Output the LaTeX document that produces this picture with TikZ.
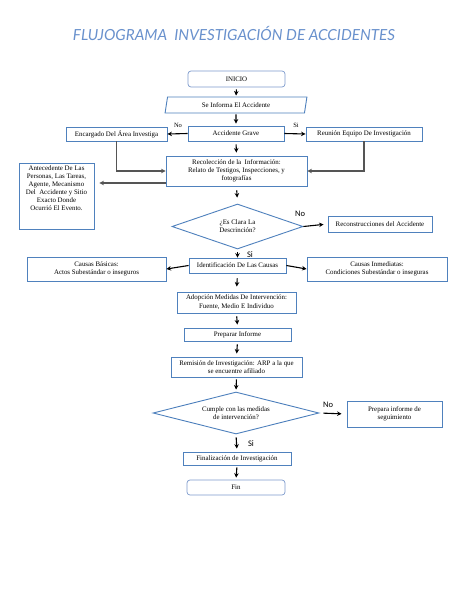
\documentclass[tikz,border=0pt]{standalone}
\usepackage{fontspec}
\setmainfont{Liberation Serif}
\newfontfamily\labf{Carlito}
\newfontfamily\ttlf{Lato}
\usetikzlibrary{shapes.geometric,arrows.meta,calc}
\definecolor{bbox}{RGB}{79,129,189}
\definecolor{rblue}{RGB}{125,155,205}
\definecolor{gline}{RGB}{85,85,85}
\definecolor{ttlc}{RGB}{105,145,205}
\begin{document}
\begin{tikzpicture}[x=1pt,y=-1pt,
  box/.style={draw=bbox, line width=0.9pt, fill=white, align=center, inner sep=0pt,
    font=\fontsize{6.9}{8}\selectfont},
  rbox/.style={box, draw=rblue, line width=0.7pt, rounded corners=3pt},
  dia/.style={box, diamond, aspect=3},
  arr/.style={-{Stealth[length=4.5pt,width=4.5pt]}, line width=1.1pt},
  garr/.style={arr, draw=gline},
  slab/.style={font=\fontsize{6.5}{7}\selectfont, inner sep=0pt},
  blab/.style={font=\labf\fontsize{8.5}{9}\selectfont, inner sep=0pt},
]
\useasboundingbox[fill=white] (0,0) rectangle (474,613);

\node[text=ttlc, inner sep=0pt] (title) at (234,33)
  {\resizebox{322pt}{!}{\ttlf\itshape FLUJOGRAMA\ \ INVESTIGACIÓN DE ACCIDENTES}};

\node[rbox, minimum width=97, minimum height=16] (inicio) at (236.5,79) {INICIO};
\node[box, trapezium, trapezium left angle=76, trapezium right angle=104,
  trapezium stretches=true, minimum width=142, minimum height=16] (inf) at (236,105) {Se Informa El Accidente};
\node[box, minimum width=96, minimum height=15] (grave) at (236,133.5) {Accidente Grave};
\node[box, minimum width=101, minimum height=14] (enc) at (116.5,134) {Encargado Del Área Investiga};
\node[box, minimum width=116, minimum height=14] (reu) at (364,134) {Reunión Equipo De Investigación};
\node[box, minimum width=141, minimum height=30] (rec) at (236.5,171)
  {Recolección de la\ \ Información:\\Relato de Testigos, Inspecciones, y\\fotografías};
\node[box, minimum width=75, minimum height=66] (ant) at (56.5,196)
  {Antecedente De Las\\Personas, Las Tareas,\\Agente, Mecanismo\\Del\ \ Accidente y Sitio\\Exacto Donde\\Ocurrió El Evento.\\\mbox{}\\\mbox{}};
\node[dia, minimum width=131, minimum height=45] (d1) at (237.5,226.5) {¿Es Clara La\\Descrinción?};
\node[box, minimum width=104, minimum height=16] (recon) at (380,224) {Reconstrucciones del Accidente};
\node[box, minimum width=97, minimum height=15] (ident) at (237.5,265.5) {Identificación De Las Causas};
\node[box, minimum width=139, minimum height=24] (cb) at (96.5,269) {Causas Básicas:\\Actos Subestándar o inseguros};
\node[box, minimum width=140, minimum height=24] (ci) at (377,269) {Causas Inmediatas:\\Condiciones Subestándar o inseguras};
\node[box, minimum width=119, minimum height=21] (adop) at (236.5,302.5) {Adopción Medidas De Intervención:\\[1pt]Fuente, Medio E Individuo};
\node[box, minimum width=107, minimum height=13] (prep) at (237.5,334.5) {Preparar Informe};
\node[box, minimum width=131, minimum height=20] (rem) at (236.5,367) {Remisión de Investigación: ARP a la que\\se encuentre afiliado};
\node[dia, minimum width=166, minimum height=42] (d2) at (236,413) {Cumple con las medidas\\de intervención?};
\node[box, minimum width=95, minimum height=26] (seg) at (394.5,414) {Prepara informe de\\seguimiento};
\node[box, minimum width=108, minimum height=13] (finv) at (237,458.5) {Finalización de Investigación};
\node[rbox, minimum width=98, minimum height=15] (fin) at (236,487.5) {Fin};

% labels
\node[slab] (lno1) at (178,125) {No};
\node[slab] (lsi1) at (296,125) {Si};
\node[blab] (lno2) at (300,214) {No};
\node[blab] (lsi2) at (250,255) {Si};
\node[blab] (lno3) at (328,405) {No};
\node[blab] (lsi3) at (251,444) {Si};

% connectors
\draw[arr, shorten <=2pt, shorten >=1pt] (inicio.south) -- (inf.north);
\draw[arr, shorten <=1pt, shorten >=2pt] (inf.south) -- (grave.north);
\draw[arr] (grave.west) -- (enc.east);
\draw[arr] (grave.east) -- (reu.west);
\draw[arr, shorten <=3pt, shorten >=3pt] (grave.south) -- (rec.north);
\draw[garr] (enc.south) |- (rec.west);
\draw[garr] (reu.south) |- (rec.east);
\coordinate (antin) at (0,183);
\draw[garr, shorten >=5pt] (rec.west |- antin) -- (ant.east |- antin);
\draw[arr, shorten <=4pt, shorten >=6pt] (rec.south) -- (d1.north);
\draw[arr, shorten >=4pt] (d1.east) -- (recon.west);
\draw[arr, shorten <=3pt] (d1.south) -- (ident.north);
\draw[arr] (ident.west) -- (cb.east);
\draw[arr] (ident.east) -- (ci.west);
\draw[arr, shorten <=5pt, shorten >=5pt] (ident.south) -- (adop.north);
\draw[arr, shorten <=3pt, shorten >=3pt] (adop.south) -- (prep.north);
\draw[arr, shorten <=3pt, shorten >=3pt] (prep.south) -- (rem.north);
\draw[arr, shorten <=2pt, shorten >=2pt] (rem.south) -- (d2.north);
\draw[arr, shorten <=4pt, shorten >=5pt] (d2.east) -- (seg.west);
\draw[arr, shorten <=3pt, shorten >=3pt] (d2.south) -- (finv.north);
\draw[arr, shorten <=2pt, shorten >=2pt] (finv.south) -- (fin.north);
\end{tikzpicture}
\end{document}
